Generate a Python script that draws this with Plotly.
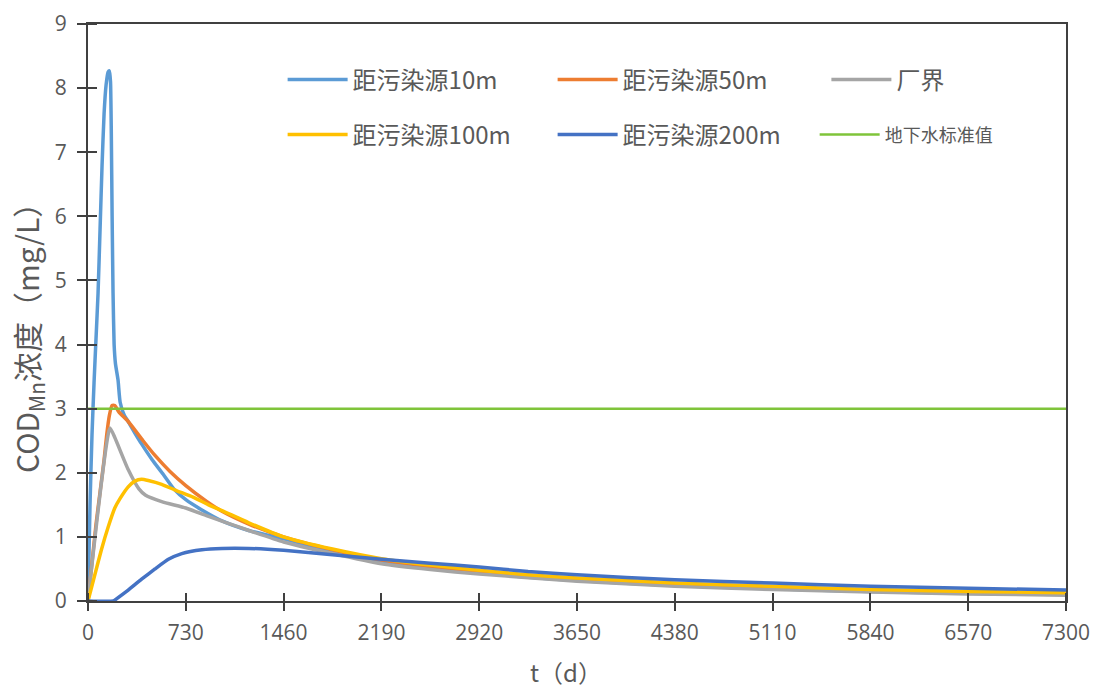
import plotly.graph_objects as go

# ---------------- data ----------------
t_10 = [0, 15, 30, 45, 60, 75, 90, 105, 120, 135, 150, 160, 168, 174, 180, 187, 195, 205, 224, 240, 270, 300, 350, 400, 480, 560, 640, 730, 850, 1000, 1200, 1460, 1825, 2190, 2555, 2920, 3285, 3650, 4380, 5110, 5840, 6570, 7300]
c_10 = [0, 1.5, 2.6, 3.4, 4.1, 4.8, 5.8, 6.8, 7.6, 8.05, 8.25, 8.27, 8.1, 7.3, 6.0, 4.8, 4.0, 3.7, 3.45, 3.1, 2.9, 2.8, 2.62, 2.45, 2.2, 1.98, 1.75, 1.58, 1.42, 1.25, 1.1, 0.97, 0.77, 0.62, 0.52, 0.44, 0.37, 0.32, 0.24, 0.19, 0.15, 0.12, 0.10]

t_50 = [0, 30, 60, 90, 120, 140, 160, 180, 200, 230, 300, 411, 500, 612, 730, 888, 1000, 1200, 1460, 1825, 2190, 2555, 2920, 3285, 3650, 4380, 5110, 5840, 6570, 7300]
c_50 = [0, 0.6, 1.2, 1.7, 2.2, 2.6, 2.9, 3.05, 3.05, 2.95, 2.8, 2.5, 2.27, 2.02, 1.8, 1.55, 1.4, 1.2, 1.0, 0.8, 0.64, 0.54, 0.45, 0.38, 0.33, 0.25, 0.20, 0.16, 0.13, 0.11]

t_fb = [0, 164, 200, 300, 380, 430, 550, 730, 900, 1036, 1200, 1460, 1825, 2190, 2555, 2920, 3650, 4380, 5110, 5840, 6570, 7300]
c_fb = [0, 2.7, 2.55, 2.05, 1.75, 1.65, 1.55, 1.45, 1.32, 1.22, 1.1, 0.92, 0.74, 0.58, 0.49, 0.42, 0.31, 0.23, 0.18, 0.14, 0.11, 0.09]

t_100 = [0, 50, 100, 150, 200, 240, 300, 350, 400, 450, 550, 650, 784, 900, 1000, 1200, 1460, 1825, 2190, 2555, 2920, 3285, 3650, 4380, 5110, 5840, 6570, 7300]
c_100 = [0, 0.4, 0.8, 1.15, 1.45, 1.6, 1.78, 1.87, 1.9, 1.88, 1.82, 1.73, 1.62, 1.5, 1.41, 1.22, 1.0, 0.81, 0.66, 0.56, 0.48, 0.41, 0.36, 0.28, 0.23, 0.18, 0.15, 0.13]

t_200 = [0, 190, 210, 300, 400, 500, 600, 700, 850, 1000, 1200, 1460, 1825, 2190, 2555, 2920, 3285, 3650, 4380, 5110, 5840, 6570, 7300]
c_200 = [0, 0, 0.03, 0.17, 0.34, 0.5, 0.65, 0.74, 0.8, 0.82, 0.82, 0.79, 0.72, 0.65, 0.59, 0.53, 0.46, 0.41, 0.33, 0.28, 0.23, 0.20, 0.17]

t_std = [0, 7300]
c_std = [3, 3]

x_ticks = [0, 730, 1460, 2190, 2920, 3650, 4380, 5110, 5840, 6570, 7300]
y_ticks = [0, 1, 2, 3, 4, 5, 6, 7, 8, 9]

names = ["距污染源10m", "距污染源50m", "厂界", "距污染源100m", "距污染源200m", "地下水标准值"]
colors = ["#5B9BD5", "#ED7D31", "#A5A5A5", "#FFC000", "#4472C4", "#7FC43A"]
y_title = "COD<sub>Mn</sub>浓度（mg/L）"
x_title = "t（d）"

CJK = "Noto Sans CJK SC, sans-serif"
NUM = "Open Sans, Noto Sans, sans-serif"
GRAY = "#595959"

fig = go.Figure()
series = [(t_10, c_10), (t_50, c_50), (t_fb, c_fb), (t_100, c_100), (t_200, c_200), (t_std, c_std)]
legends = ["legend", "legend", "legend3", "legend2", "legend2", "legend4"]
for i, ((tx, cy), nm, col, lg) in enumerate(zip(series, names, colors, legends)):
    fig.add_trace(go.Scatter(
        x=tx, y=cy, mode="lines", name=nm,
        line=dict(color=col, width=2.5 if i == 5 else 3.5, shape="spline", smoothing=0.5),
        legend=lg, hoverinfo="skip",
    ))

axis_line = "#404040"
# inner half of the crossing ticks, drawn as minor ticks at (numerically) the same places
x_minor = [v + 1e-3 for v in x_ticks]
y_minor = [v + 1e-6 for v in y_ticks]

leg_common = dict(orientation="h", yanchor="middle", xanchor="left", bgcolor="rgba(0,0,0,0)",
                  itemwidth=60)
fig.update_layout(
    width=1094, height=690,
    paper_bgcolor="white", plot_bgcolor="white",
    margin=dict(l=88, r=28, t=24, b=89),
    showlegend=True,
    xaxis=dict(
        range=[0, 7300], tickvals=x_ticks, ticktext=[str(v) for v in x_ticks],
        showgrid=False, zeroline=False, automargin=False,
        showline=True, linecolor=axis_line, linewidth=2, mirror=True,
        ticks="outside", ticklen=8, tickwidth=1.5, tickcolor=axis_line,
        minor=dict(tickmode="array", tickvals=x_minor, ticks="inside", ticklen=8,
                   tickwidth=1.5, tickcolor=axis_line, showgrid=False),
        tickfont=dict(family=NUM, size=21, color=GRAY),
        ticklabelstandoff=4, ticklabeloverflow="allow",
    ),
    yaxis=dict(
        range=[0, 9], tickvals=y_ticks,
        showgrid=False, zeroline=False, automargin=False,
        showline=True, linecolor=axis_line, linewidth=2, mirror=True,
        ticks="outside", ticklen=9, tickwidth=1.5, tickcolor=axis_line,
        minor=dict(tickmode="array", tickvals=y_minor, ticks="inside", ticklen=9,
                   tickwidth=1.5, tickcolor=axis_line, showgrid=False),
        tickfont=dict(family=NUM, size=21, color=GRAY),
        ticklabelstandoff=6,
    ),
    legend=dict(x=0.199, y=0.903, entrywidth=195, entrywidthmode="pixels",
                font=dict(family=CJK, size=24, color=GRAY), **leg_common),
    legend2=dict(x=0.199, y=0.808, entrywidth=195, entrywidthmode="pixels",
                 font=dict(family=CJK, size=24, color=GRAY), **leg_common),
    legend3=dict(x=0.755, y=0.903, font=dict(family=CJK, size=24, color=GRAY), **leg_common),
    legend4=dict(x=0.743, y=0.808, font=dict(family=CJK, size=18, color=GRAY), **leg_common),
    annotations=[
        dict(text=y_title, xref="paper", yref="paper", x=-0.0613, y=0.468,
             xanchor="center", yanchor="middle", textangle=-90, showarrow=False,
             font=dict(family=CJK, size=30, color=GRAY)),
        dict(text=x_title, xref="paper", yref="paper", x=0.489, y=-0.122,
             xanchor="center", yanchor="middle", showarrow=False,
             font=dict(family=CJK, size=24, color=GRAY)),
    ],
)

fig.write_html("out.html", config={"displayModeBar": False},
               post_script="document.body.style.margin='0px';")
